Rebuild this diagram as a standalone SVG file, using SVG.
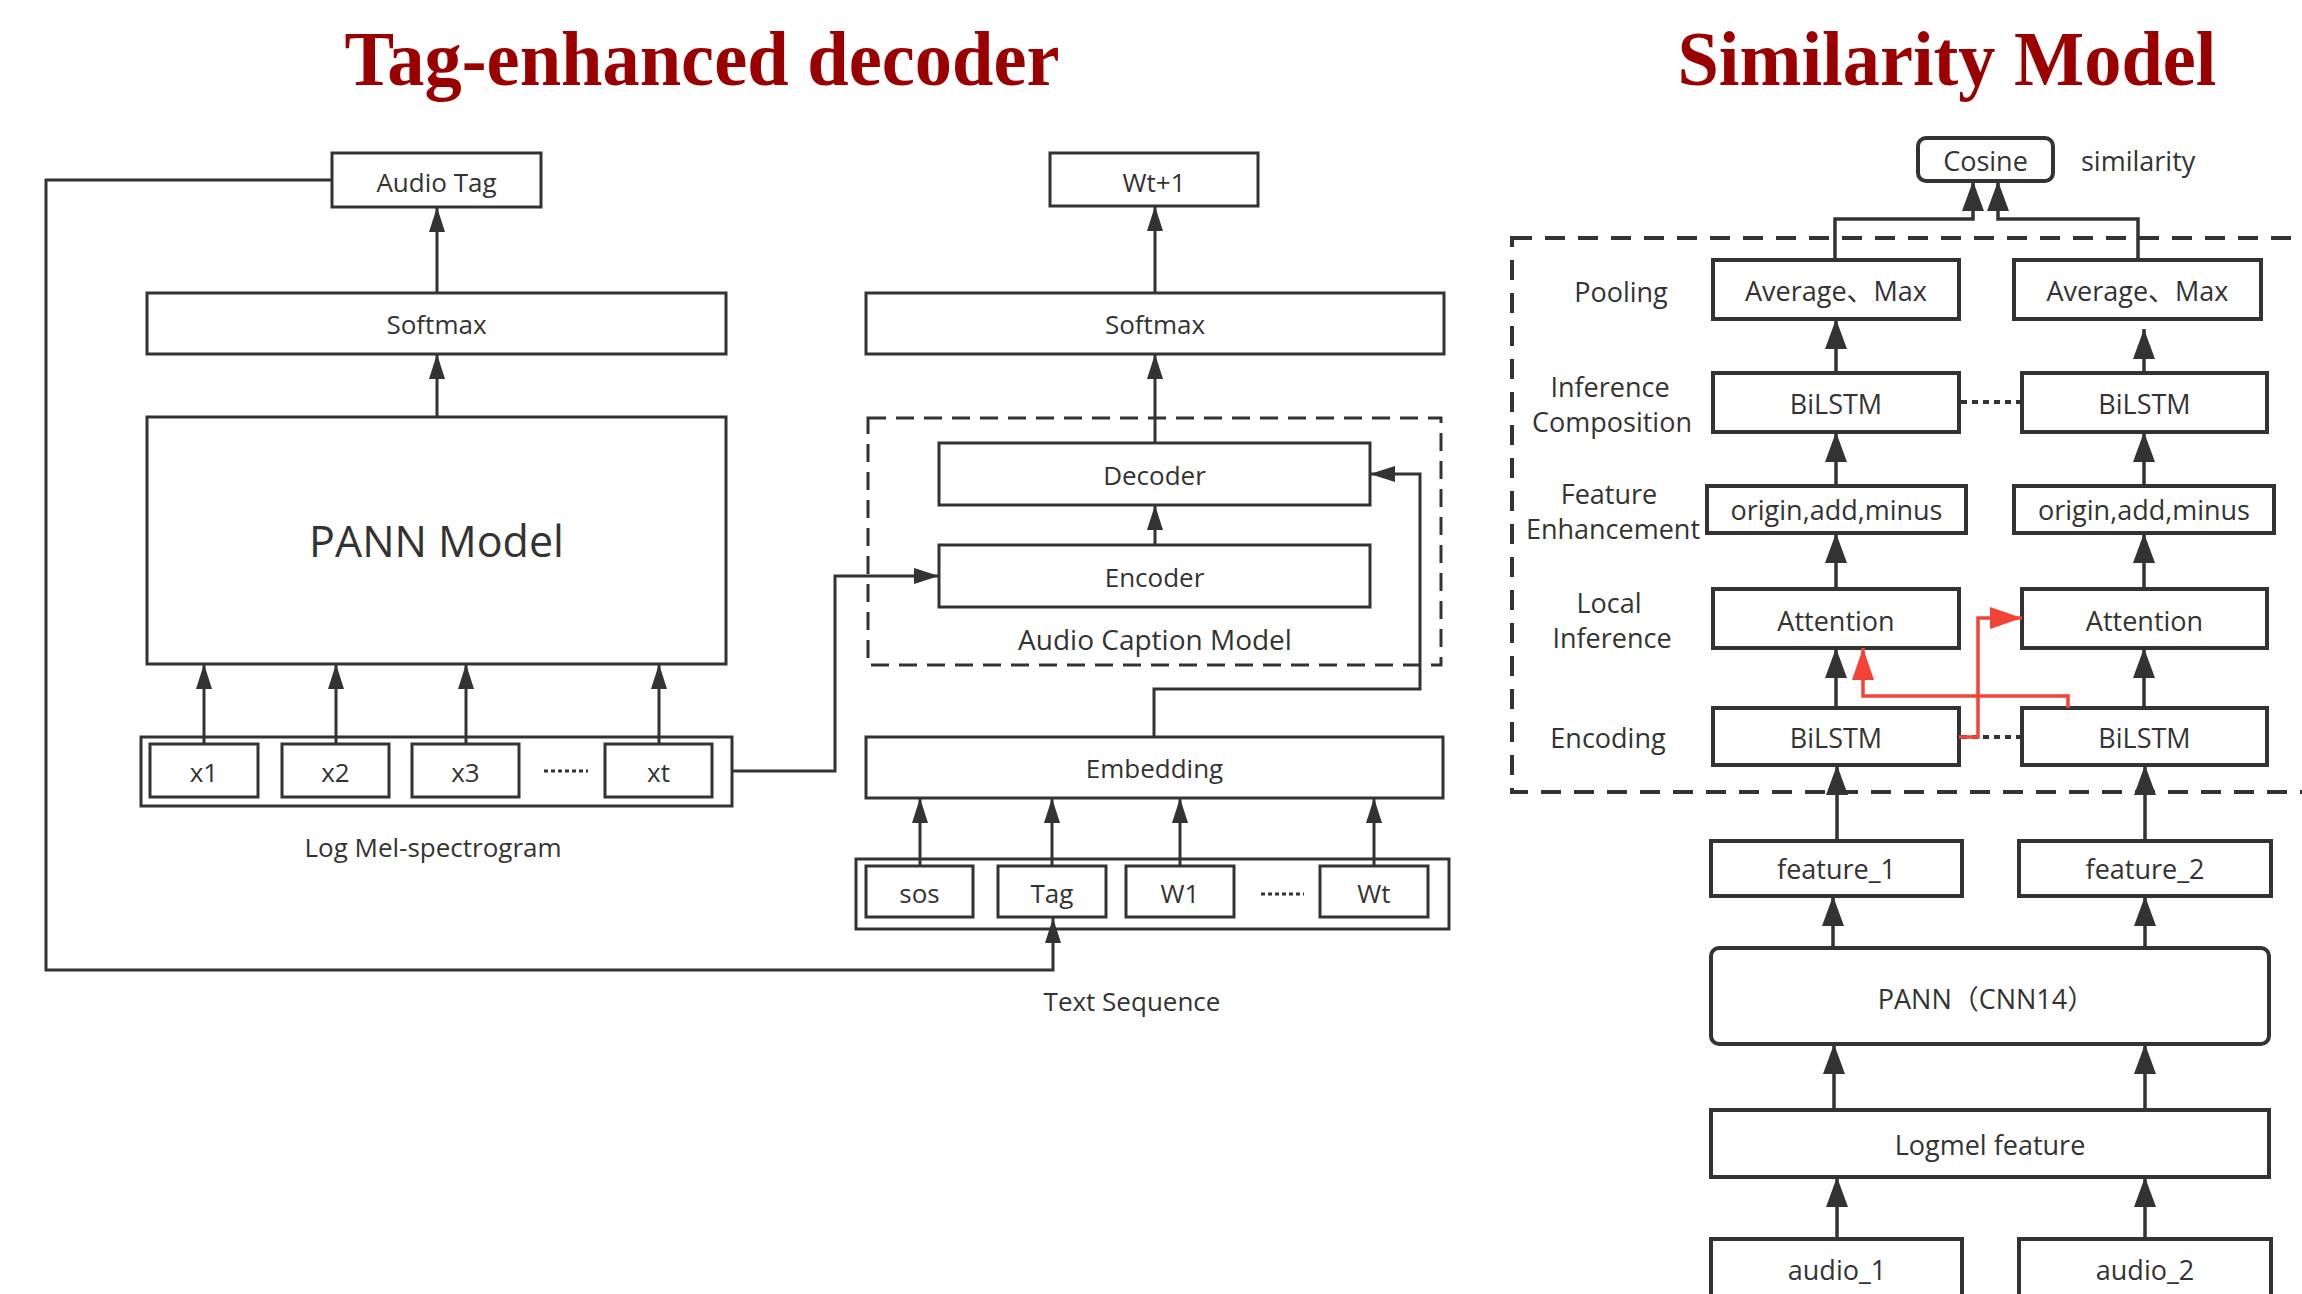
<svg xmlns="http://www.w3.org/2000/svg" width="2302" height="1294" viewBox="0 0 2302 1294">
<defs>
<style>
.bg{fill:#ffffff}
.box{fill:none;stroke:#333333;stroke-width:3}
.rbox{fill:none;stroke:#333333;stroke-width:4}
.dash{fill:none;stroke:#333333;stroke-width:3;stroke-dasharray:18 10}
.rdash{fill:none;stroke:#333333;stroke-width:4;stroke-dasharray:20 13}
.ln{fill:none;stroke:#333333;stroke-width:3}
.rln{fill:none;stroke:#333333;stroke-width:3.5}
.red{fill:none;stroke:#F44336;stroke-width:3.5}
.dot{fill:none;stroke:#333333;stroke-width:3;stroke-dasharray:4 3}
.rdot{fill:none;stroke:#333333;stroke-width:4;stroke-dasharray:6 5}
.t{font-family:"Open Sans","Noto Sans","Noto Sans CJK SC",sans-serif;fill:#333333;font-size:26px;text-anchor:middle}
.t27{font-size:27px}
.title{font-family:"Liberation Serif","Times New Roman",serif;font-weight:bold;fill:#9A0000;font-size:79px;text-anchor:middle}
</style>
<marker id="ah" markerWidth="26" markerHeight="16" refX="25" refY="8" orient="auto" markerUnits="userSpaceOnUse"><path d="M0,0 L25,8 L0,16 z" fill="#333333"/></marker>
<marker id="ahR" markerWidth="31" markerHeight="22" refX="30" refY="11" orient="auto" markerUnits="userSpaceOnUse"><path d="M0,0 L30,11 L0,22 z" fill="#333333"/></marker>
<marker id="ahRed" markerWidth="33" markerHeight="22" refX="32" refY="11" orient="auto" markerUnits="userSpaceOnUse"><path d="M0,0 L32,11 L0,22 z" fill="#F44336"/></marker>
</defs>
<rect class="bg" x="0" y="0" width="2302" height="1294"/>

<g id="titles">
<text class="title" x="702" y="85" textLength="715" lengthAdjust="spacingAndGlyphs">Tag-enhanced decoder</text>
<text class="title" x="1947" y="85" textLength="539" lengthAdjust="spacingAndGlyphs">Similarity Model</text>
</g>

<!-- Left: tag branch -->
<g id="audio-tag"><rect class="box" x="332" y="153" width="209" height="54"/><text class="t" x="436.5" y="192">Audio Tag</text></g>
<g id="softmax-1"><rect class="box" x="147" y="293" width="579" height="61"/><text class="t" x="436.5" y="334">Softmax</text></g>
<g id="pann-model"><rect class="box" x="147" y="417" width="579" height="247"/><text class="t" x="436.5" y="557" style="font-size:43px">PANN Model</text></g>
<g id="mel-strip"><rect class="box" x="141" y="737" width="591" height="69"/></g>
<g id="x1"><rect class="box" x="150" y="744" width="108" height="53"/><text class="t" x="204" y="782">x1</text></g>
<g id="x2"><rect class="box" x="282" y="744" width="107" height="53"/><text class="t" x="335.5" y="782">x2</text></g>
<g id="x3"><rect class="box" x="412" y="744" width="107" height="53"/><text class="t" x="465.5" y="782">x3</text></g>
<g id="xt"><rect class="box" x="605" y="744" width="107" height="53"/><text class="t" x="658.5" y="782">xt</text></g>
<g id="mel-dots"><line class="dot" x1="544" y1="771" x2="588" y2="771"/></g>
<g id="mel-label"><text class="t" x="433" y="857">Log Mel-spectrogram</text></g>

<!-- Left: caption branch -->
<g id="wt1"><rect class="box" x="1050" y="153" width="208" height="53"/><text class="t" x="1154" y="192">Wt+1</text></g>
<g id="softmax-2"><rect class="box" x="866" y="293" width="578" height="61"/><text class="t" x="1155" y="334">Softmax</text></g>
<g id="audio-caption-model"><rect class="dash" x="868" y="418" width="573" height="247"/><text class="t" x="1155" y="650" style="font-size:28px">Audio Caption Model</text></g>
<g id="decoder"><rect class="box" x="939" y="443" width="431" height="62"/><text class="t" x="1154.5" y="485">Decoder</text></g>
<g id="encoder"><rect class="box" x="939" y="545" width="431" height="62"/><text class="t" x="1154.5" y="587">Encoder</text></g>
<g id="embedding"><rect class="box" x="866" y="737" width="577" height="61"/><text class="t" x="1154.5" y="778">Embedding</text></g>
<g id="text-strip"><rect class="box" x="856" y="859" width="593" height="70"/></g>
<g id="sos"><rect class="box" x="866" y="866" width="107" height="51"/><text class="t" x="919.5" y="903">sos</text></g>
<g id="tag"><rect class="box" x="998" y="866" width="108" height="51"/><text class="t" x="1052" y="903">Tag</text></g>
<g id="w1"><rect class="box" x="1126" y="866" width="108" height="51"/><text class="t" x="1180" y="903">W1</text></g>
<g id="seq-dots"><line class="dot" x1="1261" y1="894" x2="1304" y2="894"/></g>
<g id="wt"><rect class="box" x="1320" y="866" width="108" height="51"/><text class="t" x="1374" y="903">Wt</text></g>
<g id="seq-label"><text class="t" x="1132" y="1011">Text Sequence</text></g>

<!-- Right: similarity model -->
<g id="cosine"><rect class="rbox" x="1918" y="138" width="135" height="43" rx="8"/><text class="t t27" x="1985.5" y="171">Cosine</text></g>
<g id="similarity-label"><text class="t t27" x="2081" y="171" style="text-anchor:start">similarity</text></g>
<g id="esim-box"><rect class="rdash" x="1512" y="238" width="820" height="554"/></g>
<g id="row-labels">
<text class="t t27" x="1621" y="302">Pooling</text>
<text class="t t27"><tspan x="1610" y="397">Inference</tspan><tspan x="1612" y="432">Composition</tspan></text>
<text class="t t27"><tspan x="1609" y="504">Feature</tspan><tspan x="1613" y="539">Enhancement</tspan></text>
<text class="t t27"><tspan x="1609" y="613">Local</tspan><tspan x="1612" y="648">Inference</tspan></text>
<text class="t t27" x="1608" y="748">Encoding</text>
</g>
<g id="avg1"><rect class="rbox" x="1713" y="260" width="246" height="59"/><text class="t t27" x="1836" y="301">Average、Max</text></g>
<g id="avg2"><rect class="rbox" x="2014" y="260" width="247" height="59"/><text class="t t27" x="2137.5" y="301">Average、Max</text></g>
<g id="bilstm-ic1"><rect class="rbox" x="1713" y="373" width="246" height="59"/><text class="t t27" x="1836" y="414">BiLSTM</text></g>
<g id="bilstm-ic2"><rect class="rbox" x="2022" y="373" width="245" height="59"/><text class="t t27" x="2144.5" y="414">BiLSTM</text></g>
<g id="origin1"><rect class="rbox" x="1707" y="486" width="259" height="47"/><text class="t t27" x="1836.5" y="520">origin,add,minus</text></g>
<g id="origin2"><rect class="rbox" x="2014" y="486" width="260" height="47"/><text class="t t27" x="2144" y="520">origin,add,minus</text></g>
<g id="att1"><rect class="rbox" x="1713" y="589" width="246" height="59"/><text class="t t27" x="1836" y="631">Attention</text></g>
<g id="att2"><rect class="rbox" x="2022" y="589" width="245" height="59"/><text class="t t27" x="2144.5" y="631">Attention</text></g>
<g id="bilstm-enc1"><rect class="rbox" x="1713" y="708" width="246" height="57"/><text class="t t27" x="1836" y="748">BiLSTM</text></g>
<g id="bilstm-enc2"><rect class="rbox" x="2022" y="708" width="245" height="57"/><text class="t t27" x="2144.5" y="748">BiLSTM</text></g>
<g id="feature1"><rect class="rbox" x="1711" y="841" width="251" height="55"/><text class="t t27" x="1836.5" y="879">feature_1</text></g>
<g id="feature2"><rect class="rbox" x="2019" y="841" width="252" height="55"/><text class="t t27" x="2145" y="879">feature_2</text></g>
<g id="pann-cnn14"><rect class="rbox" x="1711" y="948" width="558" height="96" rx="8"/><text class="t t27" x="1986" y="1009">PANN（CNN14）</text></g>
<g id="logmel"><rect class="rbox" x="1711" y="1110" width="558" height="67"/><text class="t t27" x="1990" y="1155">Logmel feature</text></g>
<g id="audio1"><rect class="rbox" x="1711" y="1239" width="251" height="62"/><text class="t t27" x="1837" y="1280">audio_1</text></g>
<g id="audio2"><rect class="rbox" x="2019" y="1239" width="252" height="62"/><text class="t t27" x="2145" y="1280">audio_2</text></g>

<g id="connectors">
<!-- left tag branch -->
<path class="ln" d="M437,293 V207" marker-end="url(#ah)"/>
<path class="ln" d="M437,417 V354" marker-end="url(#ah)"/>
<path class="ln" d="M204,744 V664" marker-end="url(#ah)"/>
<path class="ln" d="M336,744 V664" marker-end="url(#ah)"/>
<path class="ln" d="M466,744 V664" marker-end="url(#ah)"/>
<path class="ln" d="M659,744 V664" marker-end="url(#ah)"/>
<path class="ln" d="M332,180 H46 V970 H1053 V918" marker-end="url(#ah)"/>
<path class="ln" d="M732,771 H835 V576 H939" marker-end="url(#ah)"/>
<!-- caption branch -->
<path class="ln" d="M1155,293 V206" marker-end="url(#ah)"/>
<path class="ln" d="M1155,443 V354" marker-end="url(#ah)"/>
<path class="ln" d="M1155,545 V505" marker-end="url(#ah)"/>
<path class="ln" d="M1154,737 V689 H1420 V474 H1370" marker-end="url(#ah)"/>
<path class="ln" d="M920,866 V798" marker-end="url(#ah)"/>
<path class="ln" d="M1052,866 V798" marker-end="url(#ah)"/>
<path class="ln" d="M1180,866 V798" marker-end="url(#ah)"/>
<path class="ln" d="M1374,866 V798" marker-end="url(#ah)"/>
<!-- similarity model -->
<path class="rln" d="M1835,260 V219 H1973 V181" marker-end="url(#ahR)"/>
<path class="rln" d="M2138,260 V219 H1998 V181" marker-end="url(#ahR)"/>
<path class="rln" d="M1836,373 V319" marker-end="url(#ahR)"/>
<path class="rln" d="M2144,373 V329" marker-end="url(#ahR)"/>
<path class="rln" d="M1836,486 V432" marker-end="url(#ahR)"/>
<path class="rln" d="M2144,486 V432" marker-end="url(#ahR)"/>
<path class="rln" d="M1836,589 V533" marker-end="url(#ahR)"/>
<path class="rln" d="M2144,589 V533" marker-end="url(#ahR)"/>
<path class="rln" d="M1836,708 V648" marker-end="url(#ahR)"/>
<path class="rln" d="M2144,708 V648" marker-end="url(#ahR)"/>
<path class="rln" d="M1837,841 V765" marker-end="url(#ahR)"/>
<path class="rln" d="M2145,841 V765" marker-end="url(#ahR)"/>
<path class="rln" d="M1833,948 V896" marker-end="url(#ahR)"/>
<path class="rln" d="M2145,948 V896" marker-end="url(#ahR)"/>
<path class="rln" d="M1834,1110 V1044" marker-end="url(#ahR)"/>
<path class="rln" d="M2145,1110 V1044" marker-end="url(#ahR)"/>
<path class="rln" d="M1837,1239 V1177" marker-end="url(#ahR)"/>
<path class="rln" d="M2145,1239 V1177" marker-end="url(#ahR)"/>
<line class="rdot" x1="1961" y1="402" x2="2022" y2="402"/>
<line class="rdot" x1="1961" y1="737" x2="2022" y2="737"/>
<path class="red" d="M1959,737 H1978 V618 H2022" marker-end="url(#ahRed)"/>
<path class="red" d="M2068,708 V696 H1863 V648" marker-end="url(#ahRed)"/>
</g>
</svg>
